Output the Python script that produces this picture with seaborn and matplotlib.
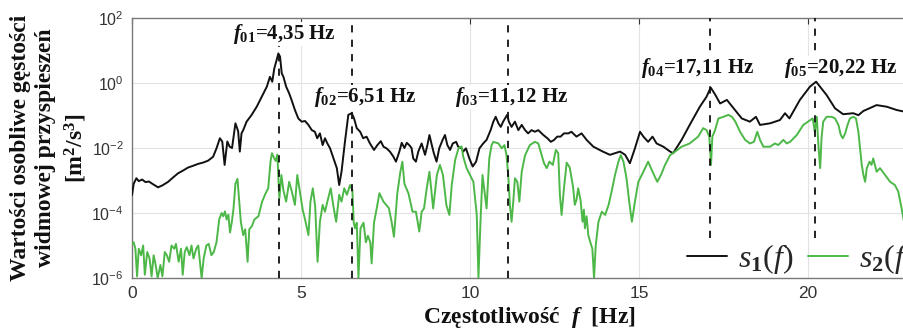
import numpy as np
import pandas as pd
import matplotlib
matplotlib.use("Agg")
import matplotlib.pyplot as plt
import seaborn as sns
from matplotlib.ticker import FuncFormatter

# ---------------- data ----------------
s1_freq = [0.0, 0.05, 0.13, 0.2, 0.3, 0.4, 0.5, 0.6, 0.77, 0.9, 1.07, 1.2, 1.36, 1.5, 1.66, 1.8,
           1.95, 2.1, 2.25, 2.4, 2.5, 2.6, 2.67, 2.74, 2.82, 2.89, 2.96, 3.06, 3.14, 3.19, 3.24,
           3.29, 3.39, 3.54, 3.69, 3.84, 3.99, 4.08, 4.15, 4.21, 4.28, 4.33, 4.38, 4.43, 4.48,
           4.56, 4.65, 4.72, 4.82, 4.92, 5.02, 5.12, 5.22, 5.32, 5.41, 5.48, 5.56, 5.64, 5.71,
           5.78, 5.86, 5.96, 6.06, 6.13, 6.2, 6.3, 6.4, 6.5, 6.57, 6.65, 6.75, 6.84, 6.94, 7.04,
           7.16, 7.26, 7.36, 7.44, 7.53, 7.63, 7.73, 7.81, 7.91, 7.98, 8.06, 8.13, 8.21, 8.27,
           8.32, 8.4, 8.47, 8.57, 8.67, 8.74, 8.8, 8.87, 8.93, 9.01, 9.09, 9.19, 9.26, 9.33,
           9.41, 9.49, 9.59, 9.65, 9.75, 9.8, 9.88, 9.98, 10.08, 10.18, 10.28, 10.39, 10.49,
           10.61, 10.69, 10.76, 10.84, 10.91, 10.98, 11.1, 11.15, 11.23, 11.33, 11.43, 11.53,
           11.63, 11.72, 11.82, 11.92, 12.02, 12.17, 12.29, 12.39, 12.49, 12.58, 12.68, 12.78,
           12.91, 13.0, 13.15, 13.3, 13.45, 13.65, 13.93, 14.14, 14.44, 14.59, 14.73, 14.88,
           15.03, 15.13, 15.27, 15.4, 15.52, 15.72, 15.92, 16.01, 16.26, 16.5, 16.8, 17.0,
           17.12, 17.25, 17.4, 17.6, 17.8, 18.04, 18.28, 18.46, 18.58, 18.88, 19.17, 19.32,
           19.45, 19.76, 20.06, 20.24, 20.55, 20.8, 21.04, 21.34, 21.49, 21.64, 22.03, 22.33,
           22.62, 22.84, 23.2, 23.5]
s1_log10 = [-3.45, -3.1, -2.93, -3.02, -2.97, -3.05, -3.03, -3.1, -3.21, -3.15, -3.04, -2.92,
            -2.78, -2.7, -2.6, -2.55, -2.49, -2.45, -2.39, -2.27, -2.01, -1.7, -1.8, -2.52,
            -1.8, -1.96, -2.0, -1.24, -1.48, -2.11, -1.55, -1.45, -1.19, -0.98, -0.73, -0.42,
            -0.11, 0.19, 0.04, 0.45, 0.71, 0.91, 0.81, 0.3, 0.19, -0.11, -0.32, -0.52, -0.83,
            -1.09, -1.19, -1.17, -1.29, -1.45, -1.5, -1.7, -1.55, -1.91, -1.7, -1.86, -2.01,
            -2.32, -2.62, -3.14, -2.72, -1.81, -0.98, -0.93, -1.09, -1.39, -1.5, -1.7, -1.65,
            -1.86, -2.06, -1.91, -1.79, -1.96, -2.01, -2.11, -2.26, -2.42, -2.11, -1.84, -2.0,
            -1.84, -1.92, -2.0, -2.32, -2.42, -2.11, -1.86, -2.21, -1.91, -1.6, -1.91, -2.16,
            -2.42, -2.01, -1.75, -1.6, -1.91, -2.06, -1.86, -1.81, -1.96, -2.01, -2.11, -2.01,
            -2.32, -2.57, -2.42, -2.01, -1.86, -1.75, -1.45, -1.19, -1.04, -1.24, -1.35, -1.19,
            -0.98, -1.19, -1.35, -1.19, -1.45, -1.29, -1.45, -1.55, -1.45, -1.5, -1.45, -1.6,
            -1.7, -1.81, -1.75, -1.65, -1.65, -1.55, -1.55, -1.5, -1.65, -1.55, -1.75, -1.96,
            -2.11, -2.21, -2.11, -2.21, -2.47, -2.01, -1.5, -1.65, -1.81, -1.65, -1.86, -1.96,
            -2.11, -2.16, -1.75, -1.29, -0.73, -0.42, -0.14, -0.35, -0.63, -0.52, -0.78, -1.09,
            -1.19, -1.04, -1.29, -1.24, -1.14, -0.93, -1.09, -0.52, -0.11, 0.04, -0.37, -0.78,
            -0.96, -0.93, -0.99, -0.86, -0.68, -0.73, -0.83, -0.88, -0.95, -1.0]

s2_freq = [0.0, 0.05, 0.1, 0.15, 0.2, 0.27, 0.33, 0.38, 0.45, 0.52, 0.58, 0.64, 0.7, 0.76, 0.84,
           0.9, 0.97, 1.03, 1.1, 1.17, 1.25, 1.3, 1.38, 1.45, 1.5, 1.56, 1.62, 1.7, 1.76, 1.82,
           1.9, 1.96, 2.02, 2.06, 2.12, 2.2, 2.27, 2.35, 2.42, 2.5, 2.58, 2.65, 2.7, 2.75, 2.8,
           2.85, 2.9, 2.95, 3.0, 3.06, 3.12, 3.17, 3.22, 3.29, 3.35, 3.42, 3.47, 3.55, 3.62,
           3.74, 3.85, 3.95, 4.03, 4.1, 4.14, 4.2, 4.25, 4.3, 4.36, 4.42, 4.48, 4.56, 4.65,
           4.72, 4.82, 4.89, 4.96, 5.05, 5.12, 5.22, 5.28, 5.35, 5.42, 5.49, 5.56, 5.64, 5.71,
           5.78, 5.88, 5.96, 6.04, 6.13, 6.2, 6.28, 6.36, 6.45, 6.52, 6.56, 6.6, 6.65, 6.7,
           6.76, 6.85, 6.92, 6.98, 7.05, 7.09, 7.16, 7.25, 7.32, 7.44, 7.6, 7.68, 7.75, 7.85,
           7.94, 8.0, 8.06, 8.18, 8.3, 8.4, 8.5, 8.57, 8.64, 8.72, 8.8, 8.91, 9.02, 9.11, 9.2,
           9.3, 9.39, 9.46, 9.56, 9.66, 9.75, 9.8, 9.9, 10.0, 10.1, 10.2, 10.25, 10.31, 10.37,
           10.43, 10.49, 10.57, 10.64, 10.69, 10.84, 10.94, 11.02, 11.08, 11.13, 11.18, 11.23,
           11.28, 11.33, 11.4, 11.46, 11.53, 11.63, 11.77, 11.92, 12.02, 12.12, 12.19, 12.27,
           12.35, 12.45, 12.54, 12.61, 12.66, 12.71, 12.78, 12.86, 12.95, 13.05, 13.1, 13.15,
           13.2, 13.27, 13.33, 13.37, 13.4, 13.45, 13.5, 13.56, 13.62, 13.67, 13.72, 13.8,
           13.9, 14.0, 14.1, 14.19, 14.29, 14.39, 14.46, 14.54, 14.63, 14.71, 14.79, 14.88,
           14.98, 15.13, 15.27, 15.4, 15.54, 15.65, 15.77, 15.92, 16.07, 16.26, 16.5, 16.75,
           16.9, 17.0, 17.08, 17.13, 17.17, 17.25, 17.35, 17.5, 17.64, 17.75, 17.85, 17.99,
           18.14, 18.28, 18.4, 18.5, 18.58, 18.68, 18.88, 19.02, 19.12, 19.27, 19.37, 19.47,
           19.67, 19.86, 20.0, 20.14, 20.2, 20.26, 20.31, 20.36, 20.4, 20.45, 20.55, 20.7,
           20.8, 20.9, 20.97, 21.03, 21.1, 21.17, 21.24, 21.34, 21.42, 21.49, 21.54, 21.59,
           21.64, 21.69, 21.74, 21.82, 21.88, 21.93, 22.03, 22.13, 22.28, 22.43, 22.57, 22.67,
           22.77, 22.84, 23.0, 23.3]
s2_log10 = [-4.95, -4.9, -5.1, -5.95, -5.1, -5.3, -5.0, -5.9, -5.2, -5.4, -5.95, -5.3, -5.6,
            -6.0, -5.6, -5.95, -5.2, -5.3, -5.5, -5.0, -5.1, -4.95, -5.5, -5.1, -5.9, -5.2,
            -5.05, -5.3, -5.0, -5.4, -5.1, -5.0, -5.6, -6.0, -5.4, -5.0, -4.95, -5.3, -5.2,
            -4.9, -4.2, -4.0, -4.1, -3.95, -4.2, -4.05, -4.6, -4.3, -3.9, -3.1, -2.95, -3.6,
            -4.27, -4.68, -4.5, -5.5, -4.5, -4.4, -4.2, -4.1, -3.65, -3.4, -3.24, -2.4, -2.16,
            -2.3, -2.4, -2.2, -3.55, -2.83, -3.3, -3.65, -3.04, -3.3, -3.75, -2.83, -3.3, -3.9,
            -4.2, -4.68, -3.65, -3.24, -3.8, -5.5, -4.27, -3.75, -3.96, -3.65, -3.24, -3.8,
            -4.27, -3.44, -3.65, -3.24, -3.44, -3.14, -3.3, -4.3, -4.47, -4.3, -6.0, -4.47,
            -4.3, -4.9, -4.7, -4.9, -5.55, -4.3, -3.8, -3.39, -3.65, -3.85, -4.27, -4.73,
            -3.39, -2.73, -2.42, -3.1, -3.4, -3.96, -3.96, -4.57, -3.96, -3.86, -3.24, -2.73,
            -3.86, -2.83, -2.52, -2.83, -3.75, -4.06, -3.14, -2.37, -2.01, -1.95, -2.27, -2.62,
            -2.83, -3.04, -4.06, -6.0, -4.27, -2.83, -3.34, -3.86, -2.32, -1.91, -1.81, -1.86,
            -2.01, -1.91, -2.22, -2.83, -3.75, -4.27, -3.65, -2.93, -3.04, -3.65, -2.73, -2.22,
            -1.91, -1.81, -1.86, -2.22, -2.47, -2.62, -2.42, -2.52, -2.06, -2.16, -3.45, -4.06,
            -3.24, -2.45, -2.6, -3.2, -3.75, -3.6, -3.24, -3.6, -4.27, -3.9, -4.47, -4.1, -4.68,
            -4.9, -5.1, -6.0, -5.0, -4.27, -3.96, -4.06, -3.75, -3.34, -2.83, -2.42, -2.22,
            -2.42, -2.93, -3.65, -4.27, -3.65, -3.04, -2.73, -2.42, -2.73, -3.04, -2.83, -2.52,
            -2.22, -2.11, -1.96, -1.86, -1.65, -1.39, -1.45, -1.65, -2.52, -1.65, -1.45, -1.09,
            -1.04, -0.98, -1.04, -1.19, -1.5, -1.75, -1.86, -1.81, -1.5, -1.75, -1.96, -1.96,
            -1.86, -1.91, -1.75, -1.86, -1.81, -1.6, -1.29, -1.19, -1.09, -1.5, -1.04, -1.96,
            -2.62, -1.7, -1.19, -1.04, -1.04, -1.09, -1.29, -1.6, -1.7, -1.55, -1.29, -1.09,
            -1.04, -1.09, -1.5, -2.01, -2.52, -2.83, -3.04, -2.62, -2.42, -2.52, -2.32, -2.73,
            -2.62, -2.83, -3.04, -3.14, -3.34, -3.86, -4.27, -4.6, -5.0]

peak_freqs = [4.35, 6.51, 11.12, 17.11, 20.22]
peak_labels = [r"$f_{\mathbf{01}}$=4,35 Hz", r"$f_{\mathbf{02}}$=6,51 Hz",
               r"$f_{\mathbf{03}}$=11,12 Hz", r"$f_{\mathbf{04}}$=17,11 Hz",
               r"$f_{\mathbf{05}}$=20,22 Hz"]
series_names = [r"$\mathcal{s}_{\mathbf{1}}\mathtt{(}\mathcal{f}\mathtt{)}$",
                r"$\mathcal{s}_{\mathbf{2}}\mathtt{(}\mathcal{f}\mathtt{)}$"]

# ---------------- style ----------------
sns.set_theme(style="white")
plt.rcParams.update({
    "mathtext.fontset": "custom",
    "mathtext.rm": "Liberation Serif:bold",
    "mathtext.it": "Liberation Serif:italic:bold",
    "mathtext.bf": "Liberation Serif:bold",
    "mathtext.sf": "Liberation Sans",
    "mathtext.cal": "Liberation Serif:italic",
    "mathtext.tt": "Liberation Serif",
})
plt.rcParams["font.family"] = ["Liberation Sans", "DejaVu Sans"]

df = pd.concat([
    pd.DataFrame({"f": s1_freq, "psd": 10.0 ** np.array(s1_log10), "s": series_names[0]}),
    pd.DataFrame({"f": s2_freq, "psd": 10.0 ** np.array(s2_log10), "s": series_names[1]}),
], ignore_index=True)

fig = plt.figure(figsize=(9.04, 3.33), dpi=100)
W, H = 904, 333
ax_left, ax_top, ax_bottom = 132, 18, 278
xmax = 23.5
px_per_unit = 33.8
ax = fig.add_axes([ax_left / W, (H - ax_bottom) / H, xmax * px_per_unit / W, (ax_bottom - ax_top) / H])

sns.lineplot(data=df, x="f", y="psd", hue="s", palette=["#111111", "#4db848"],
             estimator=None, sort=False, linewidth=1.4, ax=ax, zorder=3)

ax.set_yscale("log")
ax.set_xlim(0, xmax)
ax.set_ylim(1e-6, 1e2)
ax.set_yticks([1e-6, 1e-4, 1e-2, 1e0, 1e2])
ax.yaxis.set_minor_locator(matplotlib.ticker.NullLocator())
ax.yaxis.set_major_formatter(FuncFormatter(lambda v, p: r"$\mathsf{10^{%d}}$" % round(np.log10(v))))
ax.set_xticks([0, 5, 10, 15, 20])
ax.grid(True, color="#e3e3e3", linewidth=0.8, zorder=0)
ax.tick_params(axis="both", direction="in", length=4, width=0.8, colors="#333333",
               top=True, right=True, labelsize=11.5, pad=6)
for lab in ax.get_xticklabels():
    lab.set_fontsize(12.5)
for sp in ax.spines.values():
    sp.set_color("#7a7a7a")
    sp.set_linewidth(1.0)

# dashed markers for the peak frequencies
ymins = [1e-6, 1e-6, 1e-6, 1.7e-5, 1.7e-5]
for fpk, ymn in zip(peak_freqs, ymins):
    ax.vlines(fpk, ymn, 1e2, colors="#111111", linestyles=(0, (4, 4)), linewidth=1.3, zorder=4)

label_pos = [(4.5, 32), (6.92, 0.37), (11.24, 0.37), (16.73, 2.9), (20.98, 2.9)]
for (lx, ly), txt in zip(label_pos, peak_labels):
    ax.text(lx, ly, txt, ha="center", va="center", fontsize=15, fontweight="bold",
            family="Liberation Serif", color="#111111", zorder=6,
            bbox=dict(facecolor="white", edgecolor="none", pad=0.3))

ax.set_xlabel(r"Częstotliwość  $f$  [Hz]", fontsize=17, fontweight="bold",
              family="Liberation Serif", labelpad=3, color="#111111")
ax.set_ylabel("Wartości osobliwe gęstości\nwidmowej przyspieszeń\n[m$^{2}$/s$^{3}$]",
              fontsize=17, fontweight="bold", family="Liberation Serif",
              linespacing=1.3, labelpad=2, color="#111111")

leg = ax.legend(loc="lower left", bbox_to_anchor=(671 / W, (H - 292) / H),
                bbox_transform=fig.transFigure, ncol=2, frameon=False, fontsize=23,
                handlelength=1.25, handletextpad=0.35, columnspacing=0.45, borderpad=0.0)
for line in leg.get_lines():
    line.set_linewidth(1.4)

fig.savefig("out.png", dpi=100)
